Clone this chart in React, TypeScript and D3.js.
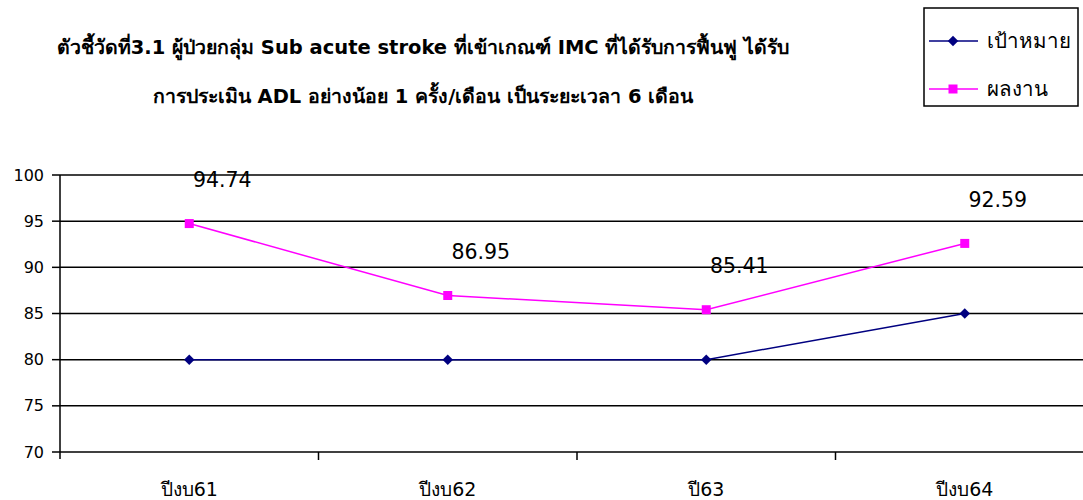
import { useEffect, useRef } from 'react';
import * as d3 from 'd3';

const categories = ['ปีงบ61', 'ปีงบ62', 'ปี63', 'ปีงบ64'];
const targetValues = [80, 80, 80, 85];
const resultValues = [94.74, 86.95, 85.41, 92.59];
const yTicks = [70, 75, 80, 85, 90, 95, 100];
const titleLines = [
    'ตัวชี้วัดที่3.1 ผู้ป่วยกลุ่ม Sub acute stroke ที่เข้าเกณฑ์ IMC ที่ได้รับการฟื้นฟู ได้รับ',
    'การประเมิน ADL อย่างน้อย 1 ครั้ง/เดือน เป็นระยะเวลา 6 เดือน',
];
const seriesNames = ['เป้าหมาย', 'ผลงาน'];

const FONT = "Tahoma, 'DejaVu Sans', 'Noto Sans', sans-serif";

export default function App() {
    const ref = useRef<SVGSVGElement>(null);

    useEffect(() => {
        document.body.style.margin = '0';
        if (!ref.current) return;
        const svg = d3.select(ref.current);
        svg.selectAll('*').remove();

        const W = 1083;
        const H = 500;
        const plot = { left: 60, right: 1094, top: 175, bottom: 452 };

        svg.attr('width', W).attr('height', H).style('background', '#fff');

        // Title
        svg.append('g')
            .selectAll('text')
            .data(titleLines)
            .enter()
            .append('text')
            .attr('x', 423)
            .attr('y', (_, i) => 54 + i * 49)
            .attr('text-anchor', 'middle')
            .attr('font-family', FONT)
            .attr('font-size', '19.5px')
            .attr('font-weight', 'bold')
            .text(d => d);

        const x = d3.scaleBand().domain(categories).range([plot.left, plot.right]);
        const y = d3.scaleLinear().domain([70, 100]).range([plot.bottom, plot.top]);
        const cx = (c: string) => x(c)! + x.bandwidth() / 2;

        // Gridlines
        svg.append('g')
            .selectAll('line')
            .data(yTicks)
            .enter()
            .append('line')
            .attr('x1', plot.left)
            .attr('x2', W)
            .attr('y1', d => y(d))
            .attr('y2', d => y(d))
            .attr('stroke', '#000')
            .attr('stroke-width', 1.5);

        // Y axis
        const yAxis = svg.append('g');
        yAxis.append('line')
            .attr('x1', plot.left).attr('x2', plot.left)
            .attr('y1', plot.top).attr('y2', plot.bottom + 7)
            .attr('stroke', '#000').attr('stroke-width', 1.5);
        yAxis.selectAll('.tick')
            .data(yTicks)
            .enter()
            .append('line')
            .attr('x1', plot.left - 8).attr('x2', plot.left)
            .attr('y1', d => y(d)).attr('y2', d => y(d))
            .attr('stroke', '#000').attr('stroke-width', 1.5);
        yAxis.selectAll('text')
            .data(yTicks)
            .enter()
            .append('text')
            .attr('x', 44)
            .attr('y', d => y(d))
            .attr('dy', '0.35em')
            .attr('text-anchor', 'end')
            .attr('font-family', FONT)
            .attr('font-size', '16px')
            .text(d => d);

        // X axis ticks between categories
        const boundaries = categories.slice(1).map(c => x(c)!);
        svg.append('g')
            .selectAll('line')
            .data(boundaries)
            .enter()
            .append('line')
            .attr('x1', d => d).attr('x2', d => d)
            .attr('y1', plot.bottom).attr('y2', plot.bottom + 8)
            .attr('stroke', '#000').attr('stroke-width', 1.5);
        svg.append('g')
            .selectAll('text')
            .data(categories)
            .enter()
            .append('text')
            .attr('x', d => cx(d))
            .attr('y', 496)
            .attr('text-anchor', 'middle')
            .attr('font-family', FONT)
            .attr('font-size', '19px')
            .text(d => d);

        const line = d3.line<number>()
            .x((_, i) => cx(categories[i]))
            .y(d => y(d));

        // Target series (navy, diamonds)
        svg.append('path')
            .datum(targetValues)
            .attr('d', line)
            .attr('fill', 'none')
            .attr('stroke', '#000080')
            .attr('stroke-width', 1.5);
        svg.append('g')
            .selectAll('path')
            .data(targetValues)
            .enter()
            .append('path')
            .attr('d', d3.symbol().type(d3.symbolDiamond2).size(70)())
            .attr('transform', (d, i) => `translate(${cx(categories[i])},${y(d)})`)
            .attr('fill', '#000080');

        // Result series (magenta, squares)
        svg.append('path')
            .datum(resultValues)
            .attr('d', line)
            .attr('fill', 'none')
            .attr('stroke', '#FF00FF')
            .attr('stroke-width', 1.5);
        svg.append('g')
            .selectAll('rect')
            .data(resultValues)
            .enter()
            .append('rect')
            .attr('x', (_, i) => cx(categories[i]) - 4.5)
            .attr('y', d => y(d) - 4.5)
            .attr('width', 9)
            .attr('height', 9)
            .attr('fill', '#FF00FF');

        // Data labels
        svg.append('g')
            .selectAll('text')
            .data(resultValues)
            .enter()
            .append('text')
            .attr('x', (_, i) => cx(categories[i]) + 33)
            .attr('y', d => y(d) - 44)
            .attr('dy', '0.35em')
            .attr('text-anchor', 'middle')
            .attr('font-family', FONT)
            .attr('font-size', '20.5px')
            .text(d => d.toFixed(2));

        // Legend
        const lg = svg.append('g');
        lg.append('rect')
            .attr('x', 924).attr('y', 8)
            .attr('width', 154).attr('height', 98)
            .attr('fill', '#fff')
            .attr('stroke', '#000')
            .attr('stroke-width', 1.5);
        const colors = ['#000080', '#FF00FF'];
        seriesNames.forEach((name, i) => {
            const ly = 41 + i * 48;
            lg.append('line')
                .attr('x1', 929).attr('x2', 978)
                .attr('y1', ly).attr('y2', ly)
                .attr('stroke', colors[i]).attr('stroke-width', 1.5);
            if (i === 0) {
                lg.append('path')
                    .attr('d', d3.symbol().type(d3.symbolDiamond2).size(70)())
                    .attr('transform', `translate(953,${ly})`)
                    .attr('fill', colors[i]);
            } else {
                lg.append('rect')
                    .attr('x', 948.5).attr('y', ly - 4.5)
                    .attr('width', 9).attr('height', 9)
                    .attr('fill', colors[i]);
            }
            lg.append('text')
                .attr('x', 987)
                .attr('y', ly)
                .attr('dy', '0.35em')
                .attr('font-family', FONT)
                .attr('font-size', '20.5px')
                .text(name);
        });
    }, []);

    return <svg ref={ref} style={{ display: 'block' }} />;
}
